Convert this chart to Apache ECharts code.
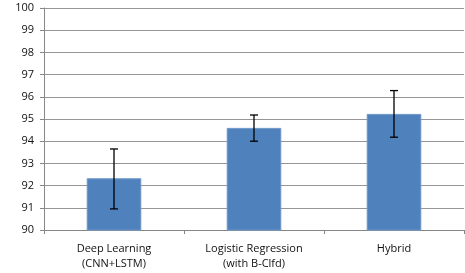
<!DOCTYPE html>
<html><head><meta charset="utf-8">
<script src="https://cdn.jsdelivr.net/npm/echarts@6/dist/echarts.min.js"></script>
<style>html,body{margin:0;padding:0;background:#fff}#c{width:465px;height:273px}</style>
</head><body><div id="c"></div>
<script>
const categories = ['Deep Learning\n(CNN+LSTM)', 'Logistic Regression\n(with B-Clfd)', 'Hybrid'];
const values = [92.33, 94.6, 95.23];
const errLow = [90.95, 94.0, 94.18];
const errHigh = [93.65, 95.18, 96.28];
const yTicks = [90, 91, 92, 93, 94, 95, 96, 97, 98, 99, 100];

const chart = echarts.init(document.getElementById('c'));
const errData = categories.map((c, i) => [i, errLow[i], errHigh[i]]);
chart.setOption({
  animation: false,
  grid: {left: 44, right: 1, top: 8, bottom: 43},
  xAxis: {
    type: 'category', data: categories,
    axisLine: {lineStyle: {color: '#868686'}},
    axisTick: {show: true, length: 4, lineStyle: {color: '#868686'}},
    axisLabel: {color: '#111', fontFamily: 'Open Sans', fontSize: 11, lineHeight: 15, margin: 11}
  },
  yAxis: {
    type: 'value', min: yTicks[0], max: yTicks[yTicks.length - 1], interval: 1,
    axisLine: {show: true, lineStyle: {color: '#868686'}},
    axisTick: {show: true, length: 4, lineStyle: {color: '#868686'}},
    splitLine: {lineStyle: {color: '#969696'}},
    axisLabel: {color: '#111', fontFamily: 'Open Sans', fontSize: 11, margin: 10}
  },
  series: [{
    type: 'bar', data: values, barWidth: '39%',
    itemStyle: {color: '#4F81BD', borderColor: '#6f97c9', borderWidth: 1}
  }, {
    type: 'custom', data: errData, z: 10,
    renderItem: function (params, api) {
      const x = api.value(0);
      const lo = api.coord([x, api.value(1)]);
      const hi = api.coord([x, api.value(2)]);
      const w = 4;
      const st = {stroke: '#000', lineWidth: 1.3};
      return {type: 'group', children: [
        {type: 'line', shape: {x1: lo[0], y1: lo[1], x2: hi[0], y2: hi[1]}, style: st},
        {type: 'line', shape: {x1: lo[0] - w, y1: lo[1], x2: lo[0] + w, y2: lo[1]}, style: st},
        {type: 'line', shape: {x1: hi[0] - w, y1: hi[1], x2: hi[0] + w, y2: hi[1]}, style: st}
      ]};
    }
  }]
});
</script></body></html>
